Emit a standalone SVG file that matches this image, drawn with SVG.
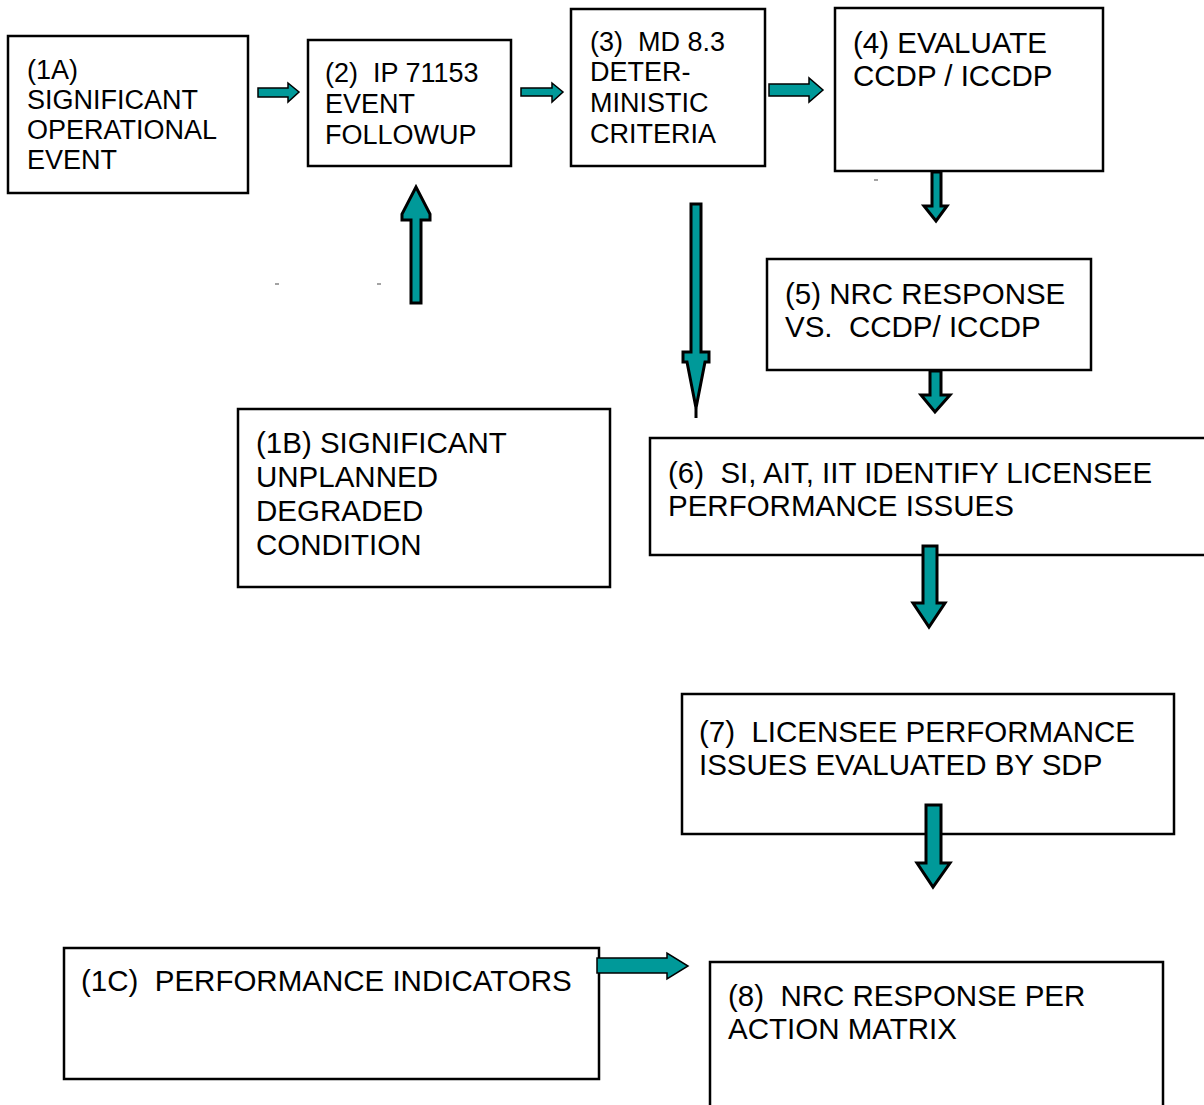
<svg xmlns="http://www.w3.org/2000/svg" width="1204" height="1105" viewBox="0 0 1204 1105">
<style>
.box{fill:#fff;stroke:#000;stroke-width:2.5}
text{font-family:"Liberation Sans",Arial,sans-serif;font-size:29.5px;fill:#000;white-space:pre}
.s{font-size:27px}
.ha{fill:#009999;stroke:#000;stroke-width:1.5;stroke-linejoin:miter}
.va{fill:#009999;stroke:#000;stroke-width:3;stroke-linejoin:miter}
.mk{stroke:#666;stroke-width:1.2}
</style>
<rect width="1204" height="1105" fill="#fff"/>
<g id="n1A"><rect class="box" x="8" y="36" width="240" height="157"/>
<text class="s" x="27" y="79">(1A)</text><text class="s" x="27" y="109">SIGNIFICANT</text><text class="s" x="27" y="139">OPERATIONAL</text><text class="s" x="27" y="169">EVENT</text></g>
<g id="n2"><rect class="box" x="308" y="40" width="203" height="126"/>
<text class="s" x="325" y="82" xml:space="preserve">(2)  IP 71153</text><text class="s" x="325" y="113">EVENT</text><text class="s" x="325" y="144">FOLLOWUP</text></g>
<g id="n3"><rect class="box" x="571" y="9" width="194" height="157"/>
<text class="s" x="590" y="51" xml:space="preserve">(3)  MD 8.3</text><text class="s" x="590" y="81">DETER-</text><text class="s" x="590" y="112">MINISTIC</text><text class="s" x="590" y="143">CRITERIA</text></g>
<g id="n4"><rect class="box" x="835" y="8" width="268" height="163"/>
<text x="853" y="53">(4) EVALUATE</text><text x="853" y="86">CCDP / ICCDP</text></g>
<g id="n5"><rect class="box" x="767" y="259" width="324" height="111"/>
<text x="785" y="304">(5) NRC RESPONSE</text><text x="785" y="337" xml:space="preserve">VS.  CCDP/ ICCDP</text></g>
<g id="n6"><rect class="box" x="650" y="438" width="560" height="117"/>
<text x="668" y="483" xml:space="preserve">(6)  SI, AIT, IIT IDENTIFY LICENSEE</text><text x="668" y="516">PERFORMANCE ISSUES</text></g>
<g id="n7"><rect class="box" x="682" y="694" width="492" height="140"/>
<text x="699" y="742" xml:space="preserve">(7)  LICENSEE PERFORMANCE</text><text x="699" y="775">ISSUES EVALUATED BY SDP</text></g>
<g id="n1B"><rect class="box" x="238" y="409" width="372" height="178"/>
<text x="256" y="453">(1B) SIGNIFICANT</text><text x="256" y="487">UNPLANNED</text><text x="256" y="521">DEGRADED</text><text x="256" y="555">CONDITION</text></g>
<g id="n1C"><rect class="box" x="64" y="948" width="535" height="131"/>
<text x="81" y="991" xml:space="preserve">(1C)  PERFORMANCE INDICATORS</text></g>
<g id="n8"><rect class="box" x="710" y="962" width="453" height="160"/>
<text x="728" y="1006" xml:space="preserve">(8)  NRC RESPONSE PER</text><text x="728" y="1039">ACTION MATRIX</text></g>
<g id="connectors">
<polygon class="ha" points="258,88 288,88 288,83 299,92 288,102 288,97 258,97"/>
<polygon class="ha" points="521,88 552,88 552,83 563,92 552,102 552,96 521,96"/>
<polygon class="ha" points="769,84 809,84 809,78 823,90 809,102 809,96 769,96"/>
<polygon class="ha" points="597,958 667,958 667,953 688,966 667,979 667,973 597,973"/>
<polygon class="va" points="411,303 411,220 402,220 402,214 416,187 430,214 430,220 421,220 421,303"/>
<polygon class="va" points="691,204 691,352 683,352 683,362 687,362 696,408 705,362 709,362 709,352 701,352 701,204"/>
<line x1="696" y1="408" x2="696" y2="418" stroke="#000" stroke-width="3"/>
<polygon class="va" points="932,172 932,206 924,206 936,221 947,206 941,206 941,172"/>
<polygon class="va" points="930,371 930,395 921,395 935,412 950,395 941,395 941,371"/>
<polygon class="va" points="923,546 923,603 913,603 929,627 945,603 937,603 937,546"/>
<polygon class="va" points="926,805 926,863 917,863 933,887 950,863 941,863 941,805"/>
<line class="mk" x1="275" y1="284" x2="279" y2="284"/>
<line class="mk" x1="377" y1="284" x2="381" y2="284"/>
<line class="mk" x1="874" y1="180" x2="878" y2="180"/>
</g>
</svg>
